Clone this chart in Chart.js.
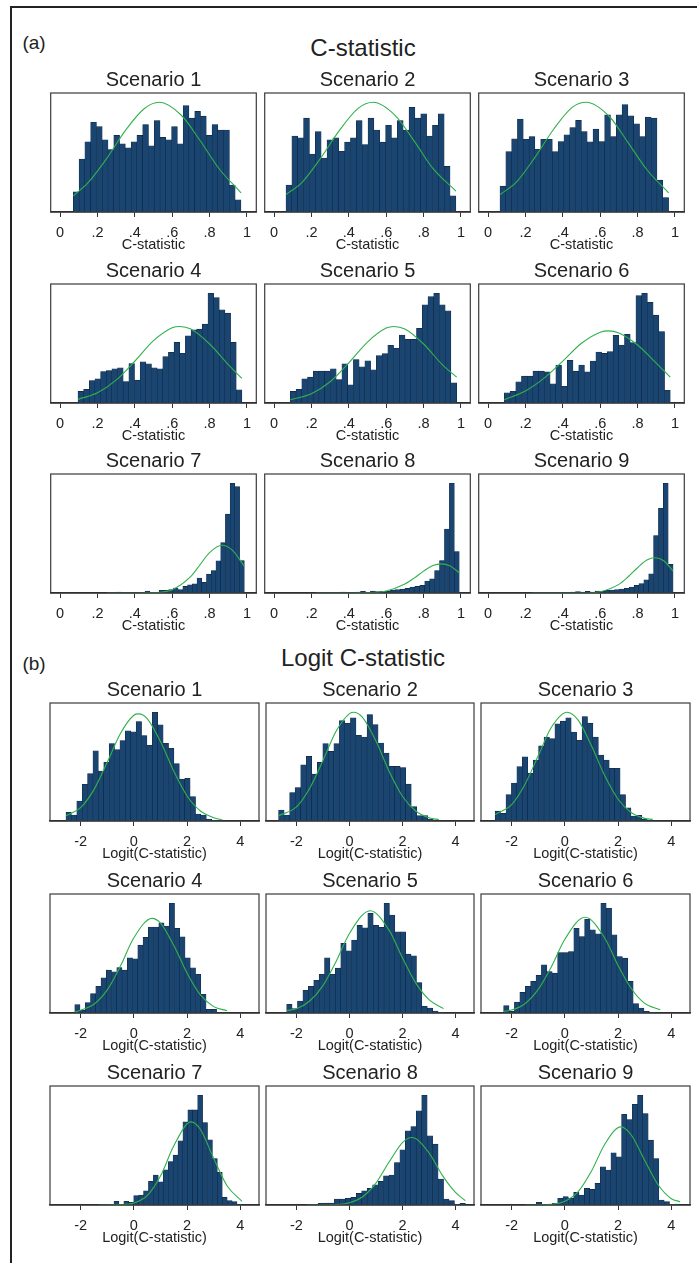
<!DOCTYPE html>
<html>
<head>
<meta charset="utf-8">
<script src="https://cdn.jsdelivr.net/npm/chart.js@4.4.1/dist/chart.umd.min.js"></script>
<style>
  body { margin: 0; background: #fff; width: 697px; height: 1263px; overflow: hidden; position: relative;
         font-family: "Liberation Sans", Arial, sans-serif; color: #222; }
  #frame { position: absolute; left: 10px; top: 6px; width: 720px; height: 1300px;
           border-left: 2px solid #222; border-top: 2px solid #222; }
  .lbl { position: absolute; white-space: nowrap; line-height: 1; transform: translate(-50%, -50%); }
  canvas { position: absolute; }
</style>
</head>
<body>
<div id="frame"></div>
<div class="lbl" style="left:34px; top:42px; font-size:19px">(a)</div>
<div class="lbl" style="left:363px; top:48px; font-size:24px">C-statistic</div>
<div class="lbl" style="left:34px; top:663px; font-size:19px">(b)</div>
<div class="lbl" style="left:363px; top:658px; font-size:24px">Logit C-statistic</div>

<script>
// ---- data (bar heights are relative frequencies) ----
const scenarios = ['Scenario 1', 'Scenario 2', 'Scenario 3', 'Scenario 4', 'Scenario 5',
                   'Scenario 6', 'Scenario 7', 'Scenario 8', 'Scenario 9'];

// (a) C-statistic
const tickValsA = [0, 0.2, 0.4, 0.6, 0.8, 1];
const tickTextA = ['0', '.2', '.4', '.6', '.8', '1'];
const binRangeA = [[.071, .968], [.064, .973], [.064, .966], [.096, .973], [.087, .977],
                   [.087, .975], [.252, .986], [.225, .991], [.233, .99]];
const heightsA = [
  [60,157,208,266,253,214,185,227,202,190,208,227,259,196,271,221,214,253,202,315,278,298,284,227,259,243,243,80,36],
  [80,225,220,278,172,238,160,214,220,180,207,220,271,200,278,243,207,257,220,271,243,310,278,291,225,257,291,135,48],
  [77,180,218,277,217,225,187,217,217,180,210,230,252,273,240,209,247,210,290,225,290,320,287,263,225,283,280,95,43],
  [35,41,68,73,95,98,103,106,65,119,69,124,118,106,103,140,153,183,150,203,221,223,238,331,318,281,271,183,40],
  [35,41,73,78,96,96,96,103,71,118,55,131,109,127,100,143,149,174,165,205,192,192,225,296,321,331,296,278,61],
  [30,35,63,80,80,95,95,93,57,113,50,127,95,113,93,125,152,148,153,202,173,205,180,320,327,300,262,213,38],
  [0,0,3,1,0,0,0,1,6,2,0,8,8,10,15,10,20,25,28,45,32,57,68,97,152,238,331,321,98],
  [0,0,2,1,0,3,0,1,3,5,2,6,4,5,5,8,10,12,14,18,20,23,36,43,68,98,193,331,125],
  [0,0,2,0,1,2,1,2,3,4,3,5,3,6,5,8,9,10,12,14,18,23,28,40,58,173,255,330,86],
];
const curveXA = [
  [.071,.15,.25,.35,.45,.531,.65,.75,.85,.968],
  [.064,.15,.25,.35,.45,.53,.65,.75,.85,.973],
  [.064,.15,.25,.35,.45,.526,.65,.75,.85,.966],
  [.096,.2,.3,.4,.5,.6,.642,.7,.8,.9,.973],
  [.087,.2,.3,.4,.5,.6,.641,.7,.8,.9,.977],
  [.087,.2,.3,.4,.5,.6,.644,.7,.8,.9,.975],
  [.252,.4,.5,.6,.7,.75,.8,.867,.92,.986],
  [.225,.4,.5,.6,.7,.75,.8,.85,.894,.94,.991],
  [.233,.5,.6,.7,.75,.8,.85,.893,.94,.99],
];
const curveYA = [
  [48,87,159,242,306,325,286,211,129,57],
  [52,88,160,242,307,325,285,210,129,62],
  [52,88,162,246,312,327,284,206,126,57],
  [11,31,69,126,188,227,231,223,178,116,74],
  [10,28,64,121,184,226,231,223,178,116,78],
  [10,36,74,125,178,211,215,209,173,119,77],
  [0,0,1,10,50,86,122,144,130,81],
  [0,0,1,6,27,45,66,83,88,82,61],
  [0,0,4,26,49,76,99,106,97,66],
];

// (b) Logit C-statistic
const tickValsB = [-2, 0, 2, 4];
const tickTextB = ['-2', '0', '2', '4'];
const binRangeB = [[-2.55, 3.33], [-2.675, 3.375], [-2.62, 3.3], [-2.22, 3.5], [-2.37, 3.55],
                   [-2.3, 3.58], [-1.3, 4.06], [-1.6, 4.375], [-1.47, 4.33]];
const heightsB = [
  [26,18,60,110,142,210,150,176,232,214,241,270,267,298,256,227,326,288,233,218,172,126,128,73,21,18,6,2,1],
  [33,18,85,100,168,193,140,175,231,208,231,300,292,308,256,251,318,288,233,203,163,163,160,110,43,16,16,6,1],
  [30,23,80,115,165,195,145,185,228,255,250,295,303,313,270,245,317,297,255,200,185,160,160,80,40,15,17,5,2],
  [25,8,31,58,80,105,128,123,136,128,165,162,203,226,257,257,270,260,328,253,228,165,135,116,56,11,11,1,1],
  [26,13,36,68,80,98,116,165,116,134,208,186,218,262,255,298,262,256,328,293,243,243,176,171,91,20,15,6,2],
  [22,5,33,62,80,95,113,145,125,120,182,182,185,255,230,282,250,238,330,315,235,170,165,95,28,15,5,2,1],
  [0,0,2,11,2,11,8,28,30,43,71,90,70,106,131,150,193,250,286,286,330,248,196,140,98,23,13,10,2],
  [1,2,5,6,6,18,18,20,23,35,43,50,61,71,88,90,128,166,223,236,283,330,208,183,78,18,13,2,5],
  [0,0,8,2,0,5,20,25,20,38,30,50,47,65,115,105,157,145,273,257,303,330,275,195,140,15,10,2,3],
];
const curveXB = [
  [-2.55,-2,-1.5,-1,-.5,0,.175,.5,1,1.5,2,2.5,3,3.33],
  [-2.675,-2,-1.5,-1,-.5,0,.16,.5,1,1.5,2,2.5,3,3.375],
  [-2.62,-2,-1.5,-1,-.5,.08,.5,1,1.5,2,2.5,3,3.3],
  [-2.22,-2,-1.5,-1,-.5,0,.68,1,1.5,2,2.5,3,3.5],
  [-2.37,-2,-1.5,-1,-.5,0,.78,1.5,2,2.5,3,3.55],
  [-2.3,-2,-1.5,-1,-.5,0,.76,1.5,2,2.5,3,3.58],
  [-1.3,-.5,0,.5,1,1.5,2.15,2.5,3,3.5,4.06],
  [-1.6,-1,-.5,0,.5,1,1.5,2,2.35,3,3.5,4,4.375],
  [-1.47,-.5,0,.5,1,1.5,2.1,2.5,3,3.5,4,4.33],
];
const curveYB = [
  [16,40,94,176,263,317,321,307,238,149,75,30,10,3],
  [16,42,98,181,269,321,325,309,239,148,74,30,10,4],
  [20,50,111,198,285,330,306,228,137,66,25,8,5],
  [3,8,26,69,141,225,283,269,202,119,54,19,7],
  [7,13,36,82,155,238,306,247,165,90,40,13],
  [5,9,28,71,140,222,288,225,143,73,29,10],
  [0,1,6,28,87,178,250,227,140,58,11],
  [0,0,1,7,25,66,130,188,203,157,90,38,13],
  [0,2,11,40,102,183,235,210,134,61,19,10],
];

// ---- layout ----
const FONT = '"Liberation Sans", Arial, sans-serif';
const BAR_FILL = '#1a4571';
const BAR_EDGE = '#0e2846';
const CURVE = '#2fb14c';
const TITLE_H = 25;   // title line + gap above the plot box
const AXIS_H = 42;    // ticks + labels + axis title below the plot box

const parts = [
  { title: 'C-statistic', tickVals: tickValsA, tickText: tickTextA, xMin: -0.05, xMax: 1.05,
    bins: binRangeA, heights: heightsA, cx: curveXA, cy: curveYA,
    cols: [[50, 257], [264, 471], [478, 685]], rows: [[93, 211.5], [284, 402.5], [474, 592.5]] },
  { title: 'Logit(C-statistic)', tickVals: tickValsB, tickText: tickTextB, xMin: -3.15, xMax: 4.7,
    bins: binRangeB, heights: heightsB, cx: curveXB, cy: curveYB,
    cols: [[50, 259], [266, 474], [481, 690]], rows: [[703, 821], [894, 1013], [1086, 1205]] },
];

Chart.defaults.font.family = FONT;
Chart.defaults.color = '#222';

const boxPlugin = {
  id: 'box',
  afterDraw(chart) {
    const { ctx, chartArea: a } = chart;
    ctx.save();
    ctx.strokeStyle = '#3a3a3a';
    ctx.lineWidth = 1.2;
    ctx.strokeRect(a.left, a.top, a.right - a.left, a.bottom - a.top);
    ctx.restore();
  }
};

function drawPanel(p, k) {
  const col = k % 3, row = Math.floor(k / 3);
  const [left, right] = p.cols[col];
  const [top, bottom] = p.rows[row];
  const cw = Math.round(right - left) + 2;
  const ch = Math.round(bottom - top) + TITLE_H + AXIS_H;

  const cv = document.createElement('canvas');
  cv.width = cw; cv.height = ch;
  cv.style.width = cw + 'px'; cv.style.height = ch + 'px';
  cv.style.left = (left - 1) + 'px';
  cv.style.top = Math.round(top - TITLE_H) + 'px';
  document.body.appendChild(cv);

  const [lo, hi] = p.bins[k];
  const h = p.heights[k];
  const w = (hi - lo) / h.length;
  const bars = h.map((v, i) => ({ x: lo + w * (i + 0.5), y: v }));
  const curve = p.cx[k].map((x, i) => ({ x, y: p.cy[k][i] }));
  const yMax = Math.max(...h, ...p.cy[k]) * 1.085;

  new Chart(cv, {
    type: 'bar',
    data: {
      datasets: [
        { type: 'line', data: curve, borderColor: CURVE, borderWidth: 1.1, pointRadius: 0,
          cubicInterpolationMode: 'monotone', fill: false, order: 0 },
        { type: 'bar', data: bars, backgroundColor: BAR_FILL, borderColor: BAR_EDGE, borderWidth: 0.6,
          barPercentage: 1, categoryPercentage: 1, order: 1 },
      ],
    },
    options: {
      responsive: false, animation: false, devicePixelRatio: 1,
      layout: { padding: { left: 1, right: 1, top: 0, bottom: 0 } },
      plugins: {
        legend: { display: false }, tooltip: { enabled: false },
        title: { display: true, text: scenarios[k], color: '#222',
                 font: { size: 20, weight: 'normal' }, padding: { top: 0, bottom: 1 } },
      },
      scales: {
        x: {
          type: 'linear', min: p.xMin, max: p.xMax, offset: false,
          afterBuildTicks: s => { s.ticks = p.tickVals.map(v => ({ value: v })); },
          afterFit: s => { s.height = AXIS_H; },
          ticks: { callback: (v, i) => p.tickText[i], font: { size: 14.5 }, color: '#222',
                   padding: 7, maxRotation: 0, autoSkip: false },
          grid: { drawOnChartArea: false, drawTicks: true, tickLength: 5, color: '#333', offset: false },
          border: { display: true, color: '#222', width: 1.5 },
          title: { display: true, text: p.title, font: { size: 14.5 }, color: '#222',
                   padding: { top: 0, bottom: 0 } },
        },
        y: { display: false, min: 0, max: yMax },
      },
    },
    plugins: [boxPlugin],
  });
}

parts.forEach(p => { for (let k = 0; k < 9; k++) drawPanel(p, k); });
</script>
</body>
</html>
